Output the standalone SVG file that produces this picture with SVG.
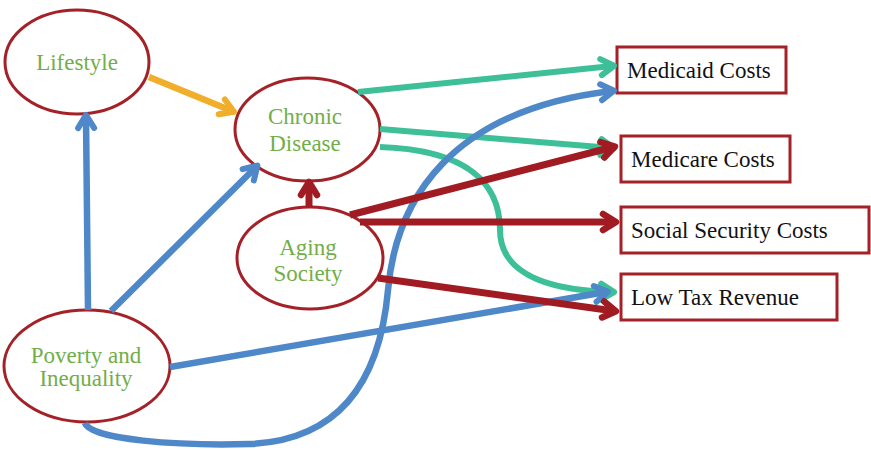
<svg xmlns="http://www.w3.org/2000/svg" width="871" height="450" viewBox="0 0 871 450">
  <style>
    .node ellipse { fill: #ffffff; stroke: #A32127; stroke-width: 3; }
    .box rect { fill: #ffffff; stroke: #A32127; stroke-width: 3; }
    .lbl { font-family: 'Liberation Serif', 'DejaVu Serif', serif; font-size: 23px; fill: #72AE48; text-anchor: middle; }
    .boxlbl { font-family: 'Liberation Serif', 'DejaVu Serif', serif; font-size: 23px; fill: #111111; }
    .edge { fill: none; stroke-linecap: butt; }
    .blue { stroke: #4F88C8; stroke-width: 6.5; }
    .teal { stroke: #3DBF98; stroke-width: 6; }
    .red { stroke: #A01C22; stroke-width: 7; }
    .orange { stroke: #F0AE2A; stroke-width: 6.5; }
  </style>
  <defs>
    <marker id="ah-blue" viewBox="0 0 24 24" markerWidth="24" markerHeight="24" refX="17" refY="12" orient="auto" markerUnits="userSpaceOnUse">
      <path d="M6,4 L19,12 L6,20" fill="none" stroke="#4F88C8" stroke-width="6" stroke-linejoin="round" stroke-linecap="round"/>
    </marker>
    <marker id="ah-teal" viewBox="0 0 24 24" markerWidth="24" markerHeight="24" refX="17" refY="12" orient="auto" markerUnits="userSpaceOnUse">
      <path d="M6,4 L19,12 L6,20" fill="none" stroke="#3DBF98" stroke-width="6" stroke-linejoin="round" stroke-linecap="round"/>
    </marker>
    <marker id="ah-red" viewBox="0 0 24 24" markerWidth="24" markerHeight="24" refX="17" refY="12" orient="auto" markerUnits="userSpaceOnUse">
      <path d="M6,4 L19,12 L6,20" fill="none" stroke="#A01C22" stroke-width="6.5" stroke-linejoin="round" stroke-linecap="round"/>
    </marker>
    <marker id="ah-orange" viewBox="0 0 24 24" markerWidth="24" markerHeight="24" refX="17" refY="12" orient="auto" markerUnits="userSpaceOnUse">
      <path d="M6,4 L19,12 L6,20" fill="none" stroke="#F0AE2A" stroke-width="6" stroke-linejoin="round" stroke-linecap="round"/>
    </marker>
  </defs>

  <!-- cause nodes -->
  <g id="lifestyle" class="node">
    <ellipse cx="77" cy="62" rx="72" ry="52"/>
    <text class="lbl" x="77" y="70">Lifestyle</text>
  </g>
  <g id="chronic-disease" class="node">
    <ellipse cx="307.5" cy="129.5" rx="72.5" ry="51.5"/>
    <text class="lbl" x="305" y="124">Chronic</text>
    <text class="lbl" x="305" y="151">Disease</text>
  </g>
  <g id="aging-society" class="node">
    <ellipse cx="310" cy="258" rx="73" ry="51"/>
    <text class="lbl" x="308" y="255">Aging</text>
    <text class="lbl" x="308" y="281">Society</text>
  </g>
  <g id="poverty-inequality" class="node">
    <ellipse cx="87" cy="366" rx="83" ry="56"/>
    <text class="lbl" x="86" y="363">Poverty and</text>
    <text class="lbl" x="86" y="386">Inequality</text>
  </g>

  <!-- outcome boxes -->
  <g id="medicaid-costs" class="box">
    <rect x="617" y="47" width="169" height="46"/>
    <text class="boxlbl" x="627" y="78">Medicaid Costs</text>
  </g>
  <g id="medicare-costs" class="box">
    <rect x="621" y="136" width="169" height="46"/>
    <text class="boxlbl" x="631" y="167">Medicare Costs</text>
  </g>
  <g id="social-security-costs" class="box">
    <rect x="621" y="207" width="248" height="46"/>
    <text class="boxlbl" x="631" y="238">Social Security Costs</text>
  </g>
  <g id="low-tax-revenue" class="box">
    <rect x="621" y="274" width="216" height="46"/>
    <text class="boxlbl" x="631" y="305">Low Tax Revenue</text>
  </g>

  <!-- connectors -->
  <g id="connectors">
    <path class="edge orange" d="M149,77 L232,111" marker-end="url(#ah-orange)"/>
    <path class="edge blue" d="M88,310 L86,117" marker-end="url(#ah-blue)"/>
    <path class="edge blue" d="M111,311 L256,167" marker-end="url(#ah-blue)"/>
    <path class="edge red" d="M309,207 L309,184" marker-end="url(#ah-red)"/>

    <path class="edge teal" d="M358,92 L612,66" marker-end="url(#ah-teal)"/>
    <path class="edge teal" d="M380,129 L612,148" marker-end="url(#ah-teal)"/>
    <path class="edge teal" d="M380,147 C470,150 500,185 500,230 C500,270 540,290 612,292" marker-end="url(#ah-teal)"/>

    <path class="edge blue" d="M85,423 C90,440 180,446 250,444 C340,440 380,380 388,290 C396,200 450,110 612,91" marker-end="url(#ah-blue)"/>
    <path class="edge blue" d="M170,367 L606,292" marker-end="url(#ah-blue)"/>

    <path class="edge red" d="M350,215 L613,147" marker-end="url(#ah-red)"/>
    <path class="edge red" d="M360,222 L614,222" marker-end="url(#ah-red)"/>
    <path class="edge red" d="M378,278 L614,311" marker-end="url(#ah-red)"/>
  </g>
</svg>
